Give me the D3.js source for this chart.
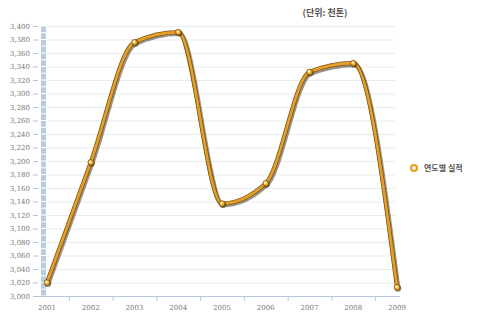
<html>
<head>
<meta charset="utf-8">
<script src="https://d3js.org/d3.v7.min.js"></script>
<style>
  body { margin: 0; background: #fff; }
  svg { display: block; }
</style>
</head>
<body>
<svg width="500" height="318"></svg>
<script>
// data (unit: thousand tons)
var years = ["2001", "2002", "2003", "2004", "2005", "2006", "2007", "2008", "2009"];
var values = [3020, 3198, 3376, 3391, 3137, 3167, 3332, 3345, 3013];
var yTicks = d3.range(3000, 3401, 20);
var unitLabel = "(단위: 천톤)";
var legendLabel = "연도별 실적";

var svg = d3.select("svg");
var plotL = 47, plotR = 397, plotT = 26, plotB = 296;

var xs = d3.scalePoint().domain(years).range([plotL, plotR]);
var ys = d3.scaleLinear().domain([3000, 3400]).range([plotB, plotT]);

// gridlines
svg.append("g").selectAll("line").data(yTicks).enter().append("line")
  .attr("x1", plotL).attr("x2", 395)
  .attr("y1", function(d) { return ys(d) + 0.5; })
  .attr("y2", function(d) { return ys(d) + 0.5; })
  .attr("stroke", "#e8ebef").attr("stroke-width", 1);

// blue stripe along the y axis
var segs = d3.range(3000, 3400, 10);
svg.append("g").selectAll("rect").data(segs).enter().append("rect")
  .attr("x", 41).attr("width", 5)
  .attr("y", function(d) { return ys(d + 10) + 0.5; })
  .attr("height", function(d) { return ys(d) - ys(d + 10) - 1; })
  .attr("fill", "#b9cde2");

// y axis labels + ticks
var yAxis = d3.axisLeft(ys).tickValues(yTicks).tickSize(5).tickPadding(3)
  .tickFormat(d3.format(","));
var gy = svg.append("g").attr("transform", "translate(38,0)").call(yAxis);
gy.select(".domain").remove();
gy.selectAll(".tick line").attr("stroke", "#b8c4d0");
gy.selectAll(".tick text").attr("fill", "#777").style("font-family", "'DejaVu Serif', serif").style("font-size", "7px");

// x axis
svg.append("line").attr("x1", 38).attr("x2", 400).attr("y1", plotB + 0.5).attr("y2", plotB + 0.5)
  .attr("stroke", "#b8c8d8");
var step = xs.step();
svg.append("g").selectAll("line").data(years.slice(0, -1)).enter().append("line")
  .attr("x1", function(d) { return xs(d) + step / 2 + 0.5; })
  .attr("x2", function(d) { return xs(d) + step / 2 + 0.5; })
  .attr("y1", plotB).attr("y2", plotB + 5)
  .attr("stroke", "#b8c4d0");
svg.append("g").selectAll("text").data(years).enter().append("text")
  .attr("x", function(d) { return xs(d); })
  .attr("y", 310)
  .attr("text-anchor", "middle")
  .attr("fill", "#777")
  .style("font-family", "'DejaVu Serif', serif").style("font-size", "7px")
  .text(function(d) { return d; });

// line
var pts = years.map(function(y, i) { return { year: y, value: values[i] }; });
var line = d3.line()
  .x(function(d) { return xs(d.year); })
  .y(function(d) { return ys(d.value); })
  .curve(d3.curveMonotoneX);

svg.append("path").datum(pts)
  .attr("fill", "none").attr("stroke", "#3a2a10").attr("stroke-opacity", 0.5)
  .attr("stroke-width", 5).attr("transform", "translate(1,1.5)")
  .attr("d", line);
svg.append("path").datum(pts)
  .attr("fill", "none").attr("stroke", "#7a5516")
  .attr("stroke-width", 4.2).attr("d", line);
svg.append("path").datum(pts)
  .attr("fill", "none").attr("stroke", "#e6a02a")
  .attr("stroke-width", 2.6).attr("d", line);

// markers
var mk = svg.append("g").selectAll("g").data(pts).enter().append("g")
  .attr("transform", function(d) { return "translate(" + xs(d.year) + "," + ys(d.value) + ")"; });
mk.append("circle").attr("r", 3.4).attr("cx", 0.8).attr("cy", 1).attr("fill", "#3a2a10").attr("opacity", 0.6);
mk.append("circle").attr("r", 2.8).attr("fill", "#f0b030").attr("stroke", "#8a5a10").attr("stroke-width", 0.8);
mk.append("circle").attr("r", 1.2).attr("cx", -0.5).attr("cy", -0.5).attr("fill", "#fff3d0");

// unit label
svg.append("text").attr("x", 325).attr("y", 16).attr("text-anchor", "middle")
  .attr("fill", "#555").style("font-family", "'Noto Sans CJK KR', sans-serif")
  .style("font-size", "9px").style("font-weight", "bold")
  .text(unitLabel);

// legend
svg.append("circle").attr("cx", 414).attr("cy", 168).attr("r", 3)
  .attr("fill", "#fff").attr("stroke", "#e89c20").attr("stroke-width", 2.2);
svg.append("text").attr("x", 424).attr("y", 171)
  .attr("fill", "#555").style("font-family", "'Noto Sans CJK KR', sans-serif")
  .style("font-size", "8px").style("font-weight", "bold")
  .text(legendLabel);
</script>
</body>
</html>
